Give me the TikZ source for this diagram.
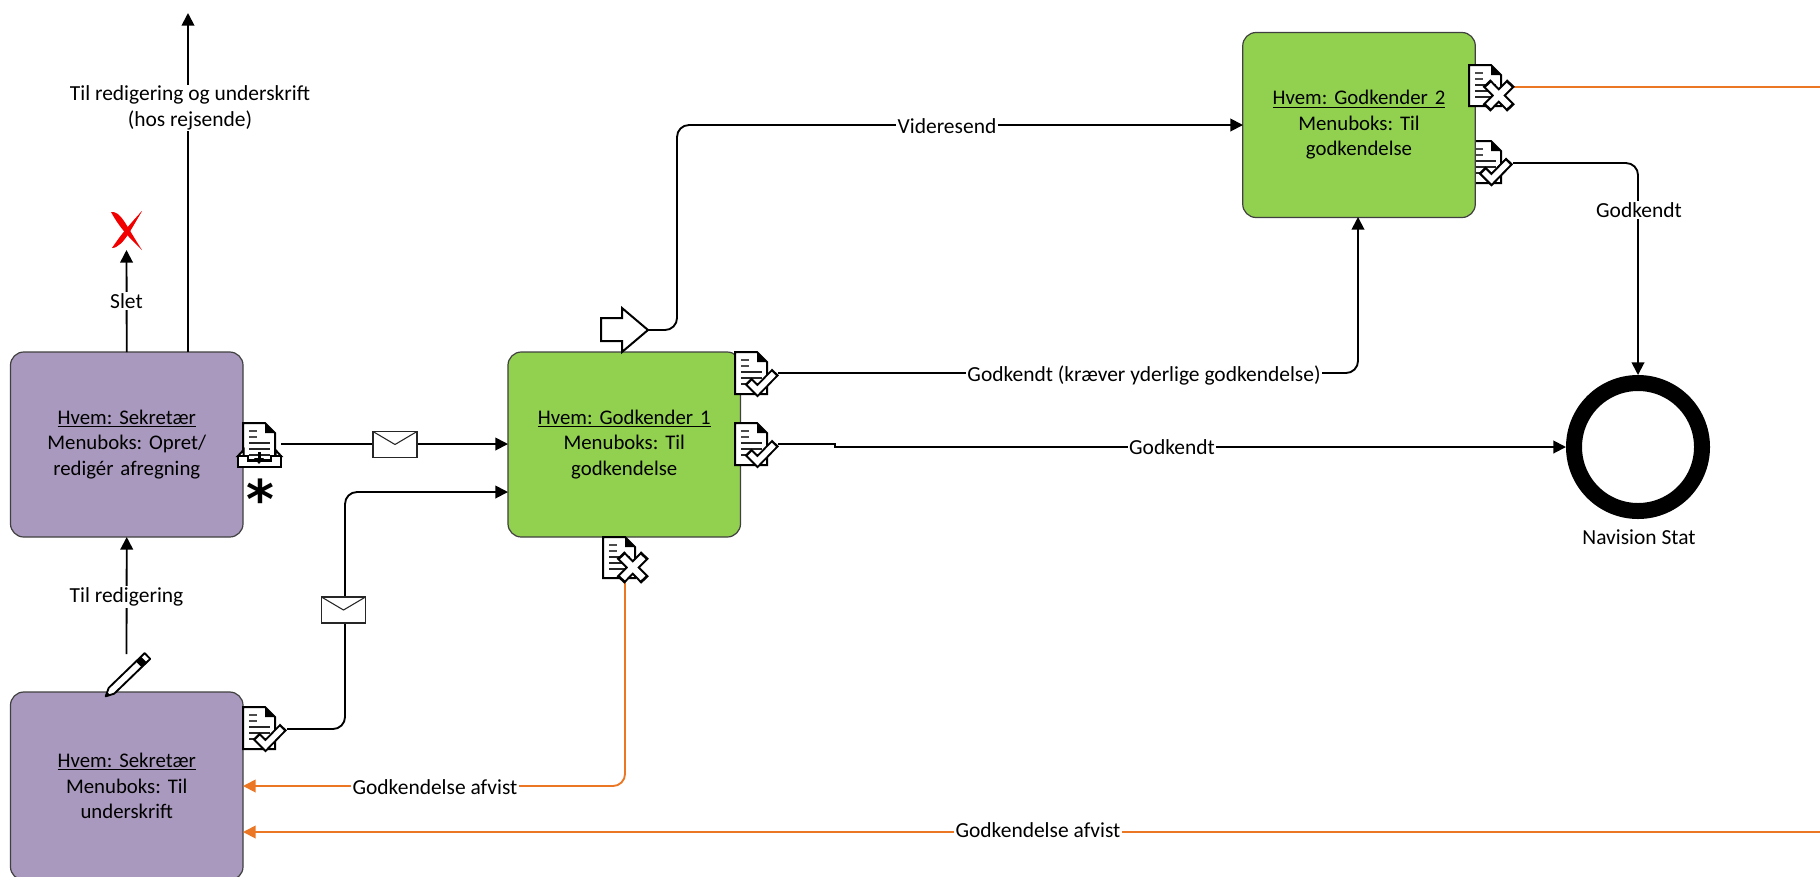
\documentclass[tikz,border=0pt]{standalone}
\usepackage{fontspec}
\setmainfont{Carlito}
\newfontfamily\starfont{DejaVu Sans}
\usetikzlibrary{arrows.meta}
\definecolor{boxpurple}{RGB}{169,153,190}
\definecolor{boxgreen}{RGB}{146,208,80}
\definecolor{linkorange}{RGB}{235,118,35}
\newcommand{\boxfont}{\fontsize{15.6pt}{19.1pt}\selectfont\frenchspacing}
\newcommand{\lblfont}{\fontsize{16.1pt}{19.1pt}\selectfont\frenchspacing}
\tikzset{
  x=.75pt,y=-.75pt,
  flowbox/.style={draw=black!75,line width=.9pt,rounded corners=10pt,minimum width=174.4pt,minimum height=138.75pt,inner sep=0pt,outer sep=0pt,text width=165pt,align=center,font=\boxfont},
  link/.style={draw=black,line width=1.4pt,rounded corners=9pt,-{Triangle[length=9.5pt,width=9.5pt]}},
  plainlink/.style={draw=black,line width=1.4pt,rounded corners=9pt},
  rejectlink/.style={link,draw=linkorange,color=linkorange},
  lbl/.style={fill=white,inner sep=1pt,outer sep=0pt,align=center,font=\lblfont},
  plainlbl/.style={inner sep=0pt,outer sep=0pt,align=center,font=\lblfont},
  pics/docpage/.style={code={
    \draw[fill=white,line width=1.5pt,line join=miter] (0,0)--(22,0)--(32,10)--(32,#1)--(0,#1)--cycle;
    \fill[black] (22,0)--(22,10)--(32,10)--cycle;
    \draw[line width=1pt,black!70] (6,8)--(14,8) (6,14)--(14,14);
    \draw[line width=1pt,black!85] (6,20)--(27,20) (6,26)--(27,26) (6,32)--(27,32);
  }},
  pics/checkmark/.style={code={
    \draw[line width=7.2pt,line join=miter,miter limit=3] (13,29)--(22.5,38.5)--(40.5,20);
    \draw[line width=4.2pt,white,line join=miter,miter limit=3] (14.8,30.8)--(22.5,38.5)--(38.8,21.7);
  }},
  pics/crossmark/.style={code={
    \draw[line width=8pt] (17.5,18)--(42,43) (42,18)--(17.5,43);
    \draw[line width=4.8pt,white] (19.5,20)--(40,41) (40,20)--(19.5,41);
  }},
  pics/docok/.style={code={\pic {docpage=42}; \pic {checkmark};}},
  pics/docno/.style={code={\pic {docpage=41}; \pic {crossmark};}},
  pics/envelope/.style={code={
    \draw[fill=white,line width=.8pt,draw=black!85] (0,0) rectangle (44,26);
    \draw[line width=.8pt,black!85] (0,0)--(22,13)--(44,0);
  }},
}
\begin{document}
\begin{tikzpicture}
\useasboundingbox (0,0) rectangle (1820,876);
\clip (0,0) rectangle (1820,876);

% document that lies behind the second approver's box
\pic at (1469,141) {docok};

% boxes
\node[flowbox,fill=boxpurple] (sek1) at (126.75,444.5) {\underline{Hvem: Sekretær}\\Menuboks: Opret/\\redigér afregning};
\node[flowbox,fill=boxpurple,minimum height=141pt] (sek2) at (126.75,786) {\underline{Hvem: Sekretær}\\Menuboks: Til\\underskrift};
\node[flowbox,fill=boxgreen] (god1) at (624.25,444.5) {\underline{Hvem: Godkender 1}\\Menuboks: Til\\godkendelse};
\node[flowbox,fill=boxgreen] (god2) at (1359,125) {\underline{Hvem: Godkender 2}\\Menuboks: Til\\godkendelse};
\node[draw=black,line width=12pt,circle,minimum size=96pt,inner sep=0pt,outer sep=6pt,fill=white] (stat) at (1638,447) {};

% free ends and ports
\coordinate (xbase) at (126.5,250);
\coordinate (up) at (188,13);
\coordinate (upstart) at (188,352);
\coordinate (pencilend) at (126.5,654);
\coordinate (inboxport) at (281,444);
\coordinate (ok0port) at (287,729);
\coordinate (ok1port) at (778,373);
\coordinate (ok2port) at (778,444);
\coordinate (no1port) at (625,581);
\coordinate (no2port) at (1513,87);
\coordinate (ok3port) at (1513,163);
\coordinate (fwdport) at (648,330);
\coordinate (rightedge1) at (1820,87);
\coordinate (rightedge2) at (1820,832);
\coordinate (sek2a) at (243,786);
\coordinate (sek2b) at (243,832);
\coordinate (god1a) at (508,444);
\coordinate (god1b) at (508,492);
\coordinate (god2a) at (1243,125);
\coordinate (god2b) at (1358,217);

% connectors
\draw[link] (sek1.north) -- (xbase);
\draw[link] (upstart) -- (up);
\draw[link] (pencilend) -- (sek1.south);
\draw[link] (inboxport) -- (god1a);
\draw[link] (ok0port) -- (345,729) -- (345,492) -- (god1b);
\draw[link] (fwdport) -- (677,330) -- (677,125) -- (god2a);
\draw[link] (ok1port) -- (1358,373) -- (god2b);
\draw[link,sharp corners] (ok2port) -- (835,444) -- (835,447) -- (stat.west);
\draw[link] (ok3port) -- (1638,163) -- (stat.north);
\draw[rejectlink] (no1port) -- (625,786) -- (sek2a);
\draw[rejectlink] (rightedge2) -- (sek2b);
\draw[plainlink,draw=linkorange] (no2port) -- (rightedge1);

% red cross
\fill[red!95!black] (111,212) .. controls (121,211) and (125,224) .. (142,250) .. controls (127,236) and (118,225) .. (111,212) -- cycle;
\fill[red!95!black] (142,211) .. controls (132,223) and (123,240) .. (112,248) .. controls (120,249) and (132,228) .. (142,211) -- cycle;
\fill[red!95!black] (112,248) .. controls (120,236) and (128,226) .. (142,211) .. controls (132,226) and (125,246) .. (112,248) -- cycle;

% pencil
\begin{scope}[shift={(105,697)},rotate=44]
  \draw[fill=white,line width=1.4pt,line join=round] (1,0)--(9,-4)--(59,-4)--(59,4)--(9,4)--cycle;
  \fill (0,0)--(5,-2.5)--(5,2.5)--cycle;
  \fill (47,-4.5) rectangle (54,4.5);
\end{scope}

% big arrow
\draw[fill=white,line width=1.5pt,line join=miter] (601,318)--(622,318)--(622,308)--(fwdport)--(622,352)--(622,341)--(601,341)--cycle;

% inbox icon
\pic at (243,423) {docpage=37};
\draw[fill=white,line width=1.5pt] (243.5,450)--(238,456)--(243.5,456)--cycle;
\draw[fill=white,line width=1.5pt] (275.5,450)--(281,456)--(275.5,456)--cycle;
\draw[fill=white,line width=1.5pt,line join=miter] (238,456)--(248,456)--(248,461)--(271,461)--(271,456)--(281,456)--(281,467)--(238,467)--cycle;
\fill (257.5,452) rectangle (260.5,458);
\fill (254,458)--(264,458)--(259,464)--cycle;

% star
\node[inner sep=0pt,font=\starfont\bfseries\fontsize{40pt}{40pt}\selectfont] (star) at (260,499) {*};

% envelopes
\pic at (373,431.5) {envelope};
\pic at (321.5,597) {envelope};

% document icons in front of the boxes
\pic at (735,352) {docok};
\pic at (735,423) {docok};
\pic at (243,707) {docok};
\pic at (603,537) {docno};
\pic at (1469,65) {docno};
\begin{scope}[shift={(1469,141)}]
  \pic {checkmark};
\end{scope}

% labels
\node[lbl] (t1) at (126.5,301) {Slet};
\node[lbl] (t2) at (190,108) {Til redigering og underskrift\\(hos rejsende)};
\node[lbl] (t3) at (126.5,597) {Til redigering};
\node[lbl] (t4) at (947,126) {Videresend};
\node[lbl] (t5) at (1144,375) {Godkendt (kræver yderlige godkendelse)};
\node[lbl] (t6) at (1172,447) {Godkendt};
\node[lbl] (t7) at (1639,210) {Godkendt};
\node[lbl] (t8) at (435,787) {Godkendelse afvist};
\node[lbl] (t9) at (1038,830) {Godkendelse afvist};
\node[plainlbl] (t10) at (1639,537) {Navision Stat};
\end{tikzpicture}
\end{document}
